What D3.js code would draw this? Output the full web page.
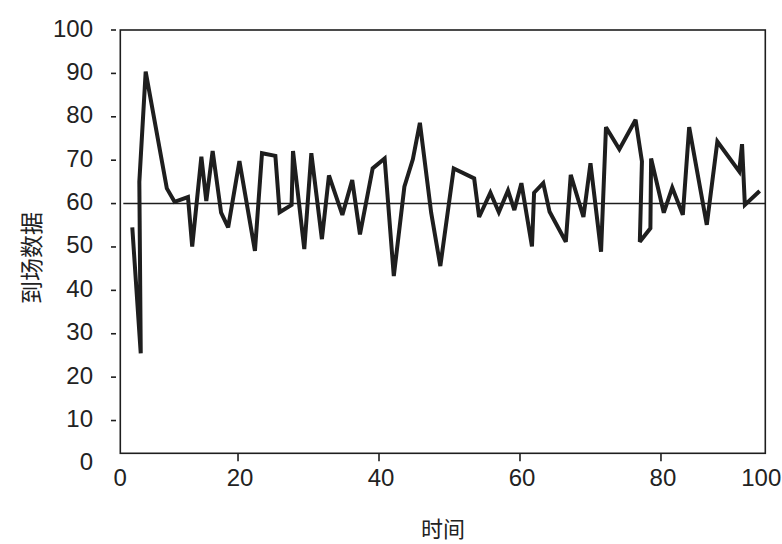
<!DOCTYPE html>
<html>
<head>
<meta charset="utf-8">
<script src="https://cdn.jsdelivr.net/npm/d3@7"></script>
<style>
  html, body { margin: 0; padding: 0; background: #fff; }
  svg text { font-family: "Liberation Sans", Arial, sans-serif; fill: #222; }
  .cjk { font-family: "Noto Sans CJK SC", sans-serif; }
</style>
</head>
<body>
<svg id="chart" width="782" height="544"></svg>
<script>
// ---- data ----
const times = [5.0, 6.2, 6.0, 6.9, 9.9, 11.0, 12.9, 13.5, 14.8, 15.5, 16.4, 17.6, 18.6, 20.2, 22.4, 23.4,
  25.3, 25.9, 27.6, 27.8, 29.4, 30.4, 31.9, 32.9, 34.8, 36.2, 37.3, 39.1, 40.8, 42.1, 43.6, 44.8,
  45.8, 47.4, 48.7, 50.6, 53.5, 54.2, 55.8, 57.0, 58.3, 59.2, 60.2, 61.7, 62.0, 63.3, 64.2, 66.5,
  67.2, 69.0, 70.0, 71.5, 72.2, 74.1, 76.4, 77.3, 77.0, 78.5, 78.6, 80.4, 81.6, 83.1, 84.0, 86.5,
  88.0, 91.1, 91.5, 91.9, 94.0];
const values = [54.5, 25.5, 65.0, 90.4, 63.5, 60.4, 61.5, 50.1, 70.8, 60.6, 72.1, 57.9, 54.5, 69.8, 49.1, 71.6,
  71.0, 58.0, 59.7, 72.1, 49.5, 71.6, 51.8, 66.5, 57.4, 65.4, 52.9, 68.1, 70.4, 43.3, 63.9, 70.2,
  78.6, 57.9, 45.6, 68.1, 65.8, 56.9, 62.5, 58.0, 63.0, 58.5, 64.7, 50.1, 62.5, 64.7, 58.1, 51.2,
  66.6, 56.9, 69.3, 48.9, 77.6, 72.5, 79.3, 69.7, 51.2, 54.3, 70.4, 57.9, 63.7, 57.4, 77.6, 55.1,
  74.3, 67.4, 73.7, 59.7, 62.9];
const refValue = 60;
const xTickValues = [0, 20, 40, 60, 80, 100];
const yTickValues = [0, 10, 20, 30, 40, 50, 60, 70, 80, 90, 100];
const xTitle = "时间";
const yTitle = "到场数据";

// ---- layout ----
const svg = d3.select("#chart");
const mLeft = 120.3, mRight = 765.3, mTop = 30, mBottom = 453.3;

const x = d3.scaleLinear().domain([3.3, 94.8]).range([mLeft, mRight]);
const y = d3.scaleLinear().domain([2.45, 100]).range([mBottom, mTop]);
const ink = "#1e1e1e";

// frame
svg.append("rect")
  .attr("x", mLeft).attr("y", mTop)
  .attr("width", mRight - mLeft).attr("height", mBottom - mTop)
  .attr("fill", "none").attr("stroke", ink).attr("stroke-width", 1.6);

// x axis ticks
const gx = svg.append("g");
xTickValues.forEach(v => {
  const px = x(v);
  const inside = px >= mLeft && px <= mRight;
  if (inside) {
    gx.append("line").attr("x1", px).attr("x2", px)
      .attr("y1", mBottom).attr("y2", mBottom + 8)
      .attr("stroke", ink).attr("stroke-width", 1.6);
  }
  const lx = Math.max(mLeft, Math.min(mRight - 4, px));
  gx.append("text").attr("x", inside ? px + 2 : lx).attr("y", mBottom + 33)
    .attr("text-anchor", "middle")
    .attr("font-size", 24)
    .text(v);
});

// y axis ticks
const gy = svg.append("g");
yTickValues.forEach(v => {
  const py = y(v);
  if (py >= mTop - 0.5 && py <= mBottom) {
    gy.append("line").attr("x1", 111).attr("x2", 116)
      .attr("y1", py).attr("y2", py)
      .attr("stroke", ink).attr("stroke-width", 1.6);
  }
  gy.append("text").attr("x", 93).attr("y", py - 2)
    .attr("text-anchor", "end")
    .attr("dominant-baseline", "central")
    .attr("font-size", 24)
    .text(v);
});

// reference line
svg.append("line")
  .attr("x1", mLeft + 3).attr("x2", mRight)
  .attr("y1", y(refValue)).attr("y2", y(refValue))
  .attr("stroke", ink).attr("stroke-width", 1.6);

// data line
const pts = times.map((t, i) => [t, values[i]]);
svg.append("path")
  .datum(pts)
  .attr("d", d3.line().x(d => x(d[0])).y(d => y(d[1])))
  .attr("fill", "none")
  .attr("stroke", ink)
  .attr("stroke-width", 4)
  .attr("stroke-linejoin", "miter")
  .attr("stroke-miterlimit", 3);

// titles
svg.append("text").attr("class", "cjk")
  .attr("x", 443).attr("y", 527)
  .attr("text-anchor", "middle").attr("dominant-baseline", "central")
  .attr("font-size", 22)
  .text(xTitle);

svg.append("text").attr("class", "cjk")
  .attr("transform", "translate(30,258) rotate(-90)")
  .attr("text-anchor", "middle").attr("dominant-baseline", "central")
  .attr("font-size", 23)
  .text(yTitle);
</script>
</body>
</html>
